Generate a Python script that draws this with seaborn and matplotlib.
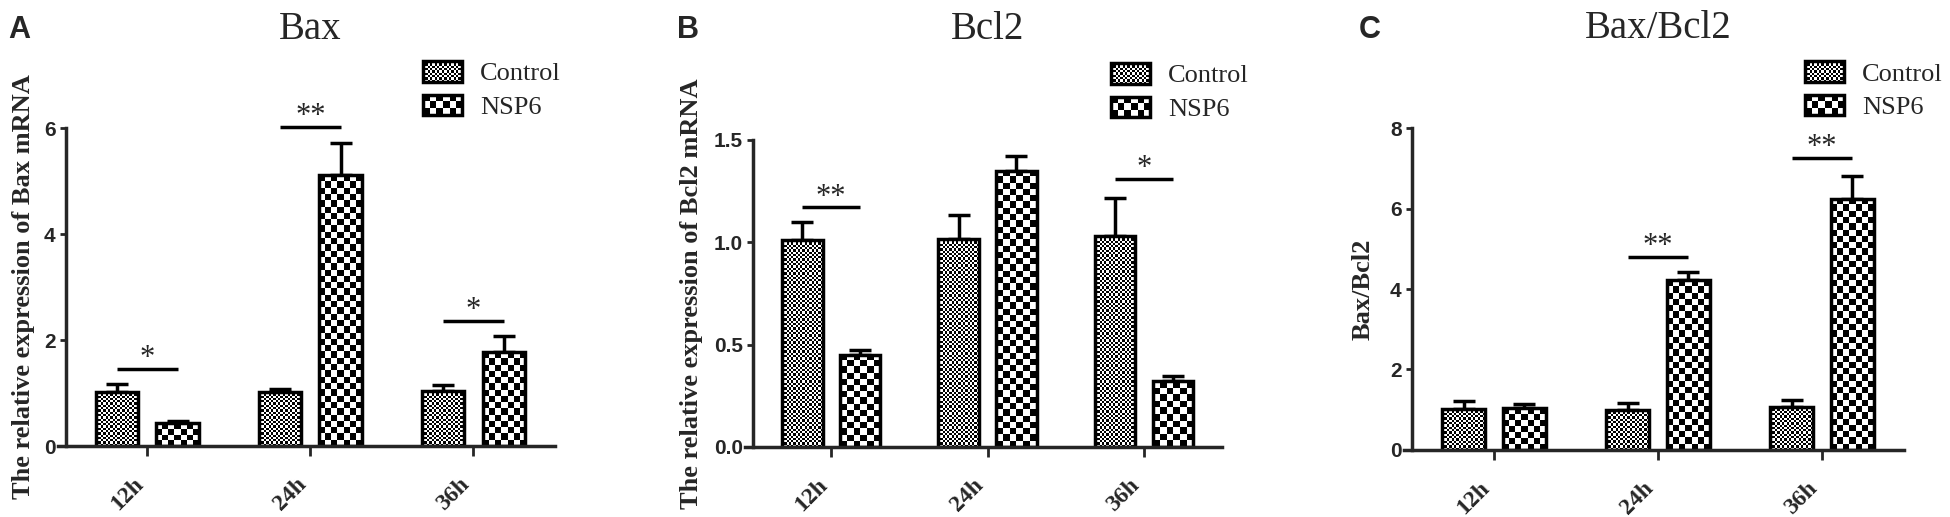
import numpy as np
import pandas as pd
import matplotlib
matplotlib.use("Agg")
import matplotlib.pyplot as plt
import seaborn as sns
from matplotlib.patches import Patch, Rectangle
from matplotlib.legend_handler import HandlerPatch
from matplotlib.image import BboxImage
from matplotlib.transforms import Bbox, TransformedBbox

# data
times = ["12h", "24h", "36h"]
groups = ["Control", "NSP6"]

bax_ctrl = [1.02, 1.02, 1.03]
bax_ctrl_err = [0.15, 0.06, 0.12]
bax_nsp6 = [0.43, 5.11, 1.77]
bax_nsp6_err = [0.05, 0.60, 0.30]
bax_sig_pos = [0, 1, 2]
bax_sig_y = [1.45, 6.02, 2.36]
bax_sig_txt = ["*", "**", "*"]

bcl2_ctrl = [1.01, 1.015, 1.03]
bcl2_ctrl_err = [0.09, 0.12, 0.185]
bcl2_nsp6 = [0.45, 1.35, 0.32]
bcl2_nsp6_err = [0.025, 0.07, 0.028]
bcl2_sig_pos = [0, 2]
bcl2_sig_y = [1.17, 1.31]
bcl2_sig_txt = ["**", "*"]

ratio_ctrl = [1.03, 1.00, 1.08]
ratio_ctrl_err = [0.18, 0.16, 0.16]
ratio_nsp6 = [1.04, 4.22, 6.24]
ratio_nsp6_err = [0.11, 0.20, 0.57]
ratio_sig_pos = [1, 2]
ratio_sig_y = [4.80, 7.26]
ratio_sig_txt = ["**", "**"]

sns.set_style("ticks")
plt.rcParams["font.family"] = ["Liberation Serif", "DejaVu Serif"]

DPI = 100
EDGE = 2.5
CELLS = {"Control": 2.3, "NSP6": 6.3}


def checker_array(ny, nx):
    return (np.add.outer(np.arange(ny), np.arange(nx)) % 2).astype(float)


class CheckerHandler(HandlerPatch):
    def __init__(self, cell):
        super().__init__()
        self.cell = cell

    def create_artists(self, legend, orig_handle, xdescent, ydescent,
                       width, height, fontsize, trans):
        px = DPI / 72
        nx = max(2, int(round(width * px / self.cell)))
        ny = max(2, int(round(height * px / self.cell)))
        box = TransformedBbox(Bbox.from_bounds(-xdescent, -ydescent, width, height), trans)
        img = BboxImage(box, cmap="gray", interpolation="nearest", origin="lower")
        img.set_data(checker_array(ny, nx))
        rect = Rectangle((-xdescent, -ydescent), width, height, facecolor="none",
                         edgecolor="black", linewidth=EDGE, transform=trans)
        return [img, rect]


def checker_fill(ax, patch, cell):
    # checkerboard image filling the bar exactly, edge redrawn on top
    x, y = patch.get_x(), patch.get_y()
    w, h = patch.get_width(), patch.get_height()
    bb = patch.get_window_extent()
    nx = max(2, int(round(bb.width / cell)))
    ny = max(1, int(round(bb.height / cell)))
    ax.imshow(checker_array(ny, nx), cmap="gray", extent=(x, x + w, y, y + h),
              origin="lower", interpolation="nearest", aspect="auto", zorder=1.5)
    patch.set_visible(False)
    ax.add_patch(Rectangle((x, y), w, h, facecolor="none", edgecolor="black",
                           linewidth=EDGE, zorder=1.8))


def panel(fig, rect, title, ylabel, ctrl, ctrl_err, nsp6, nsp6_err,
          sig_pos, sig_y, sig_txt, ylim, yticks, yfmt, title_pad,
          label_x, legend_xy):
    ax = fig.add_axes(rect)
    df = pd.DataFrame({
        "time": times * 2,
        "group": [groups[0]] * 3 + [groups[1]] * 3,
        "value": list(ctrl) + list(nsp6),
    })
    sns.barplot(data=df, x="time", y="value", hue="group", order=times,
                hue_order=groups, palette=["white", "white"], edgecolor="black",
                linewidth=EDGE, width=0.74, gap=0.3, errorbar=None,
                legend=False, ax=ax)
    ax.set_xlim(-0.5, 2.5)
    ax.set_ylim(*ylim)
    ax.set_autoscale_on(False)

    errs = [ctrl_err, nsp6_err]
    centers = []
    for k, cont in enumerate(ax.containers[:2]):
        xs = [p.get_x() + p.get_width() / 2 for p in cont.patches]
        hs = [p.get_height() for p in cont.patches]
        centers.append(xs)
        ax.errorbar(xs, hs, yerr=[np.zeros(len(hs)), errs[k]], fmt="none",
                    ecolor="black", elinewidth=EDGE, capsize=8, capthick=EDGE,
                    zorder=1.2, clip_on=False)

    for i, y, t in zip(sig_pos, sig_y, sig_txt):
        x_a, x_b = centers[0][i], centers[1][i]
        ax.plot([x_a, x_b], [y, y], color="black", lw=EDGE, clip_on=False,
                solid_capstyle="butt")
        ax.annotate(t, xy=((x_a + x_b) / 2, y), xytext=(0, 2),
                    textcoords="offset points", ha="center", va="baseline",
                    fontsize=22, annotation_clip=False)

    ax.set_title(title, fontsize=28, pad=title_pad)
    ax.set_xlabel("")
    ax.set_ylabel(ylabel, fontsize=19, fontweight="bold")
    ax.yaxis.set_label_coords(label_x, 0.5)
    ax.set_yticks(yticks)
    ax.set_yticklabels([yfmt.format(v) for v in yticks], fontfamily="Liberation Sans",
                       fontweight="bold", fontsize=15)
    ax.set_xticks(range(len(times)))
    ax.set_xticklabels(times, rotation=45, ha="right", fontweight="bold", fontsize=17)
    ax.tick_params(axis="y", length=4.5, width=2.0, pad=3)
    ax.tick_params(axis="x", length=7, width=2.0, pad=13)
    sns.despine(ax=ax)
    for side in ["left", "bottom"]:
        ax.spines[side].set_linewidth(EDGE)
    ax.spines["bottom"].set_bounds(-0.55, 2.5)

    h_ctrl, h_nsp = Patch(label=groups[0]), Patch(label=groups[1])
    ax.legend(handles=[h_ctrl, h_nsp], labels=groups,
              handler_map={h_ctrl: CheckerHandler(CELLS["Control"]),
                           h_nsp: CheckerHandler(CELLS["NSP6"])},
              loc="upper left", bbox_to_anchor=legend_xy, frameon=False,
              borderpad=0, borderaxespad=0, handlelength=1.48, handleheight=0.83,
              handletextpad=0.68, labelspacing=0.35, fontsize=19)

    for k, cont in enumerate(ax.containers[:2]):
        for p in cont.patches:
            checker_fill(ax, p, CELLS[groups[k]])
    ax.set_xlim(-0.5, 2.5)
    ax.set_ylim(*ylim)
    return ax


fig = plt.figure(figsize=(19.5, 5.17), dpi=DPI)

panel(fig, [0.0338, 0.1373, 0.2508, 0.615], "Bax",
      "The relative expression of Bax mRNA",
      bax_ctrl, bax_ctrl_err, bax_nsp6, bax_nsp6_err,
      bax_sig_pos, bax_sig_y, bax_sig_txt,
      (0, 6), [0, 2, 4, 6], "{:.0f}", 64, -0.063, (0.730, 1.211))

panel(fig, [0.3862, 0.1354, 0.2405, 0.594], "Bcl2",
      "The relative expression of Bcl2 mRNA",
      bcl2_ctrl, bcl2_ctrl_err, bcl2_nsp6, bcl2_nsp6_err,
      bcl2_sig_pos, bcl2_sig_y, bcl2_sig_txt,
      (0, 1.5), [0, 0.5, 1.0, 1.5], "{:.1f}", 73, -0.107, (0.763, 1.251))

panel(fig, [0.7241, 0.1296, 0.2523, 0.6228], "Bax/Bcl2", "Bax/Bcl2",
      ratio_ctrl, ratio_ctrl_err, ratio_nsp6, ratio_nsp6_err,
      ratio_sig_pos, ratio_sig_y, ratio_sig_txt,
      (0, 8), [0, 2, 4, 6, 8], "{:.0f}", 65, -0.075, (0.799, 1.208))

for letter, xpx in zip(["A", "B", "C"], [8, 677, 1359]):
    fig.text(xpx / 1950, 1 - 15 / 517, letter, fontsize=22, fontweight="bold",
             fontfamily="Liberation Sans", ha="left", va="top")

fig.savefig("out.png", dpi=DPI)
